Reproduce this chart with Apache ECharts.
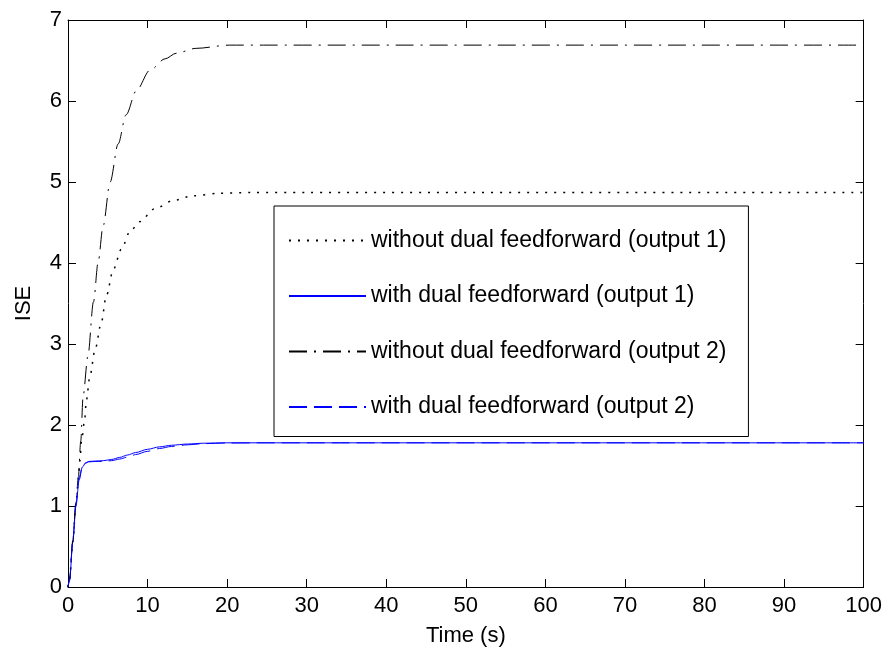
<!DOCTYPE html>
<html>
<head>
<meta charset="utf-8">
<script src="https://cdn.jsdelivr.net/npm/echarts@6/dist/echarts.min.js"></script>
<style>
  html, body { margin: 0; padding: 0; background: #fff; }
  #chart { width: 885px; height: 653px; }
</style>
</head>
<body>
<div id="chart"></div>
<script>
// ISE accumulated over time for the two outputs, with and without dual feedforward.
const seriesNames = [
  'without dual feedforward (output 1)',
  'with dual feedforward (output 1)',
  'without dual feedforward (output 2)',
  'with dual feedforward (output 2)'
];

const xTicks = [0, 10, 20, 30, 40, 50, 60, 70, 80, 90, 100];
const yTicks = [0, 1, 2, 3, 4, 5, 6, 7];

// output 1, no dual feedforward
const tNoFf1 = [0, 0.2, 0.6, 1.0, 1.3, 1.5, 1.7, 2.1, 2.3, 2.75, 3.4, 4.2, 4.8, 5.7, 6.7, 7.8, 9.0, 10.9, 13.2, 15.7, 19, 23, 30, 100];
const iseNoFf1 = [0, 0.1, 0.56, 1.02, 1.33, 1.56, 1.8, 2.07, 2.3, 2.6, 2.93, 3.27, 3.59, 3.92, 4.17, 4.39, 4.51, 4.67, 4.77, 4.83, 4.86, 4.87, 4.87, 4.87];

// output 1, with dual feedforward
const tFf1 = [0, 0.2, 0.6, 1.0, 1.4, 1.8, 2.2, 2.6, 3.5, 4.5, 5.5, 6.5, 7.5, 8.5, 10, 11.5, 13, 15, 17, 20, 25, 30, 100];
const iseFf1 = [0, 0.08, 0.55, 1.0, 1.32, 1.48, 1.53, 1.55, 1.555, 1.56, 1.575, 1.6, 1.63, 1.66, 1.7, 1.73, 1.75, 1.765, 1.775, 1.78, 1.78, 1.78, 1.78];

// output 2, no dual feedforward
const tNoFf2 = [0, 0.2, 0.6, 1.0, 1.3, 1.6, 1.9, 2.5, 3.2, 3.8, 4.4, 5.3, 6.3, 7.3, 8.6, 10.3, 12.2, 13.6, 16.1, 20.3, 25, 100];
const iseNoFf2 = [0, 0.1, 0.57, 1.04, 1.36, 1.8, 2.36, 2.85, 3.52, 4.02, 4.45, 5.0, 5.47, 5.83, 6.13, 6.38, 6.52, 6.59, 6.65, 6.69, 6.69, 6.69];

// output 2, with dual feedforward
const tFf2 = [0, 0.2, 0.6, 1.0, 1.4, 1.8, 2.2, 2.6, 3.5, 4.5, 5.5, 6.5, 7.5, 8.5, 10, 11.5, 13, 15, 17, 20, 25, 30, 100];
const iseFf2 = [0, 0.1, 0.58, 1.03, 1.35, 1.49, 1.53, 1.545, 1.55, 1.55, 1.56, 1.58, 1.605, 1.635, 1.675, 1.71, 1.735, 1.755, 1.77, 1.778, 1.78, 1.78, 1.78];

const zip = (xs, ys) => xs.map((x, i) => [x, ys[i]]);

const FONT = '"Liberation Sans", Arial, sans-serif';
const black = '#000000';
const blue = '#0000ff';

const axisCommon = {
  type: 'value',
  axisLine: { show: true, onZero: false, lineStyle: { color: black, width: 1 } },
  axisTick: { show: true, inside: true, length: 8, lineStyle: { color: black, width: 1 } },
  splitLine: { show: false }
};

const chart = echarts.init(document.getElementById('chart'), null, { renderer: 'canvas' });

const lineSeries = (name, xs, ys, color, type, width) => ({
  name,
  type: 'line',
  data: zip(xs, ys),
  showSymbol: false,
  symbol: 'none',
  smooth: 0.3,
  smoothMonotone: 'x',
  lineStyle: { color, width, type, cap: 'butt' },
  itemStyle: { color },
  animation: false
});

chart.setOption({
  backgroundColor: '#ffffff',
  animation: false,
  grid: { left: 68, right: 19, top: 20, bottom: 66, containLabel: false },
  xAxis: [
    Object.assign({}, axisCommon, {
      position: 'bottom',
      min: xTicks[0], max: xTicks[xTicks.length - 1], interval: 10,
      name: 'Time (s)', nameLocation: 'middle', nameGap: 38,
      nameTextStyle: { fontFamily: FONT, fontSize: 22, color: black },
      axisLabel: { show: true, margin: 8, fontFamily: FONT, fontSize: 22, color: black }
    }),
    Object.assign({}, axisCommon, {
      position: 'top',
      min: xTicks[0], max: xTicks[xTicks.length - 1], interval: 10,
      axisLabel: { show: false }
    })
  ],
  yAxis: [
    Object.assign({}, axisCommon, {
      position: 'left',
      min: yTicks[0], max: yTicks[yTicks.length - 1], interval: 1,
      name: 'ISE', nameLocation: 'middle', nameGap: 33, nameRotate: 90,
      nameTextStyle: { fontFamily: FONT, fontSize: 22, color: black },
      axisLabel: { show: true, margin: 6, fontFamily: FONT, fontSize: 22, color: black }
    }),
    Object.assign({}, axisCommon, {
      position: 'right',
      min: yTicks[0], max: yTicks[yTicks.length - 1], interval: 1,
      axisLabel: { show: false }
    })
  ],
  legend: {
    data: seriesNames,
    orient: 'vertical',
    left: 274,
    top: 206,
    backgroundColor: '#ffffff',
    borderColor: black,
    borderWidth: 1,
    padding: [23, 22, 18, 14],
    itemGap: 32.5,
    itemWidth: 77,
    itemHeight: 14,
    // legend keys show only the line pattern, no marker
    itemStyle: { opacity: 0, borderWidth: 0 },
    textStyle: { fontFamily: FONT, fontSize: 23, color: black }
  },
  series: [
    lineSeries(seriesNames[0], tNoFf1, iseNoFf1, black, [2, 7], 1.5),
    lineSeries(seriesNames[1], tFf1, iseFf1, blue, 'solid', 1),
    lineSeries(seriesNames[2], tNoFf2, iseNoFf2, black, [18, 7, 2, 7], 1),
    lineSeries(seriesNames[3], tFf2, iseFf2, blue, [18, 7], 1)
  ]
});
</script>
</body>
</html>
